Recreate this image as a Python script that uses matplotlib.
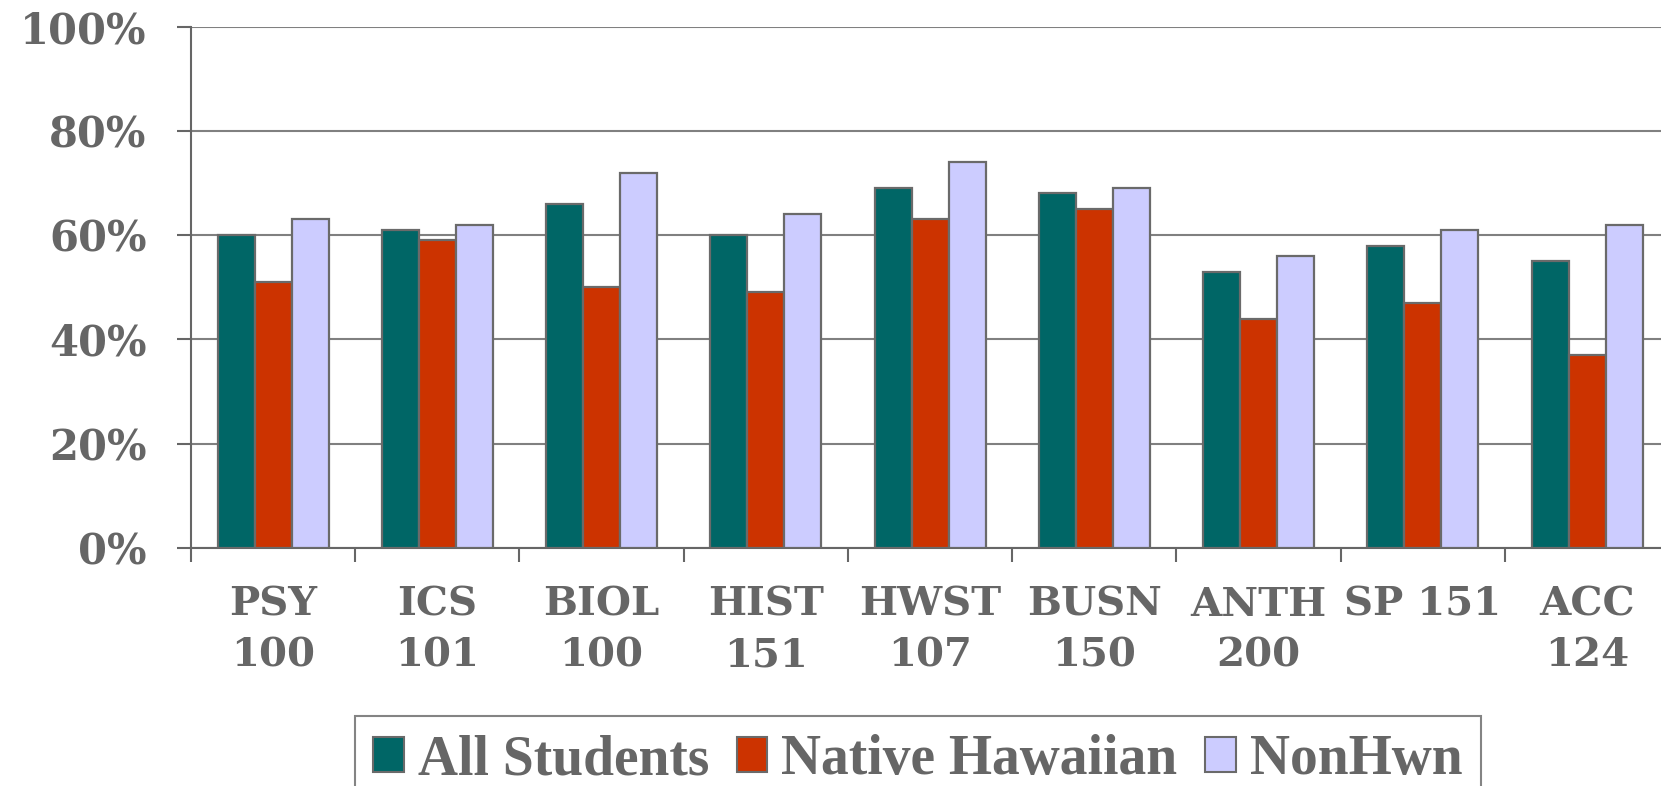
import numpy as np
import matplotlib
matplotlib.use("Agg")
import matplotlib.pyplot as plt
from matplotlib.patches import Patch

courses = ["PSY\n100", "ICS\n101", "BIOL\n100", "HIST\n151", "HWST\n107",
           "BUSN\n150", "ANTH\n200", "SP 151\n", "ACC\n124"]
all_students = [60, 61, 66, 60, 69, 68, 53, 58, 55]
native_hawaiian = [51, 59, 50, 49, 63, 65, 44, 47, 37]
non_hwn = [63, 62, 72, 64, 74, 69, 56, 61, 62]
series_names = ["All Students", "Native Hawaiian", "NonHwn"]
colors = ["#006666", "#CC3300", "#CCCCFF"]

gray = "#666666"
edge = "#6a6a6a"

fig = plt.figure(figsize=(16.61, 7.86), dpi=100)
ax = fig.add_axes([191 / 1661, 1 - 548 / 786, 1 - 191 / 1661 + 0.002, (548 - 26.5) / 786])

x = np.arange(len(courses))
w = 0.225
for i, (vals, c) in enumerate(zip([all_students, native_hawaiian, non_hwn], colors)):
    ax.bar(x + (i - 1) * w, vals, w, color=c, edgecolor=edge, linewidth=1.6, zorder=3)

ax.set_ylim(0, 100)
ax.set_xlim(-0.5, 8.47)
ax.set_yticks(np.arange(0, 101, 20))
ax.set_yticklabels([f"{v}%" for v in range(0, 101, 20)])
ax.yaxis.grid(True, color="#808080", linewidth=1.5, zorder=0)

ax.set_xticks(x)
ax.set_xticklabels(courses, linespacing=1.42)
ax.set_xticks(np.arange(-0.5, 8.0, 1.0), minor=True)
ax.tick_params(axis="x", which="major", length=0, pad=27)
ax.tick_params(axis="x", which="minor", length=10, width=1.5, color=gray, direction="out")
ax.tick_params(axis="y", length=10, width=1.5, color=gray, direction="out", pad=22)

for lab in ax.get_xticklabels() + ax.get_yticklabels():
    lab.set_fontfamily("DejaVu Serif")
    lab.set_fontweight("bold")
    lab.set_fontsize(30)
    lab.set_color(gray)
for lab in ax.get_xticklabels():
    lab.set_fontsize(29)

for s in ["top", "right"]:
    ax.spines[s].set_visible(False)
for s in ["left", "bottom"]:
    ax.spines[s].set_color(gray)
    ax.spines[s].set_linewidth(1.5)

handles = [Patch(facecolor=c, edgecolor=edge, linewidth=1.5) for c in colors]
leg = fig.legend(handles, series_names, loc="upper left",
                 bbox_to_anchor=(355 / 1661, 1 - 716 / 786), ncol=3,
                 prop={"family": "Liberation Serif", "weight": "bold", "size": 40},
                 frameon=True, fancybox=False, handlelength=0.55, handleheight=0.6,
                 handletextpad=0.25, columnspacing=0.5, borderpad=0.33,
                 borderaxespad=0)
leg.get_frame().set_edgecolor(gray)
leg.get_frame().set_linewidth(1.5)
for t in leg.get_texts():
    t.set_color(gray)

fig.savefig("out.png", dpi=100)
